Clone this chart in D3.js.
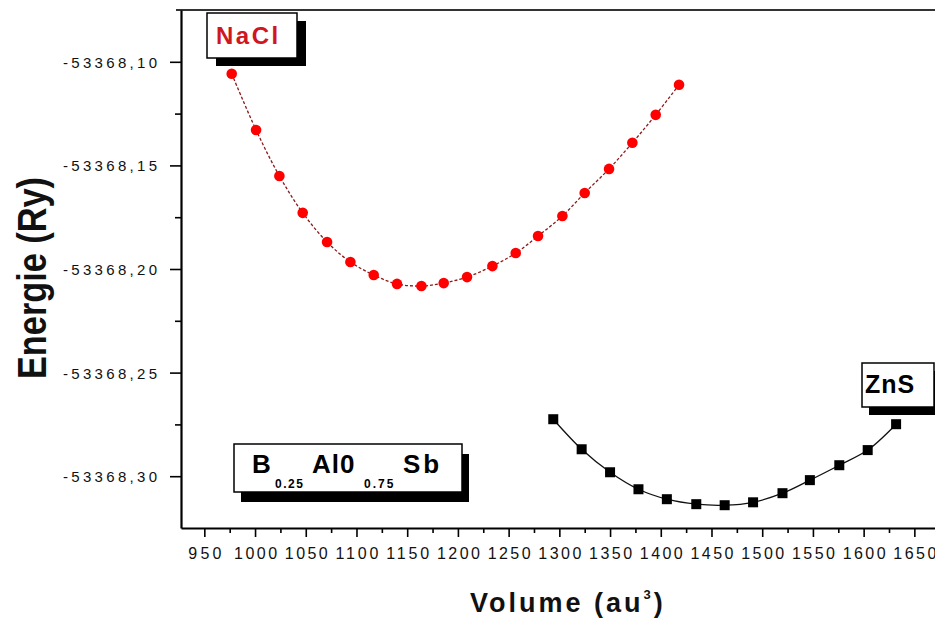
<!DOCTYPE html>
<html>
<head>
<meta charset="utf-8">
<script src="https://cdn.jsdelivr.net/npm/d3@7"></script>
<style>
  html, body { margin: 0; padding: 0; background: #fff; }
  svg { display: block; font-family: Arial, "Liberation Sans", sans-serif; }
</style>
</head>
<body>
<svg id="chart" width="935" height="622"></svg>
<script>
// Total energy vs. cell volume for two phases
const naclVolume = [977, 1001, 1024, 1047, 1071, 1094, 1117, 1140, 1164, 1186,
                    1209, 1234, 1257, 1279, 1303, 1325, 1349, 1372, 1395, 1418];
const naclEnergy = [-53368.1058, -53368.1329, -53368.1551, -53368.1729, -53368.1870,
                    -53368.1966, -53368.2029, -53368.2072, -53368.2082, -53368.2068,
                    -53368.2039, -53368.1986, -53368.1923, -53368.1841, -53368.1744,
                    -53368.1633, -53368.1517, -53368.1391, -53368.1256, -53368.1111];

const znsVolume = [1294, 1322, 1350, 1378, 1406, 1435, 1463, 1491, 1520, 1547, 1576, 1604, 1632];
const znsEnergy = [-53368.2725, -53368.2870, -53368.2981, -53368.3063, -53368.3111,
                   -53368.3135, -53368.3140, -53368.3126, -53368.3082, -53368.3019,
                   -53368.2947, -53368.2874, -53368.2749];

const volumeTicks = [950, 1000, 1050, 1100, 1150, 1200, 1250, 1300, 1350, 1400, 1450, 1500, 1550, 1600, 1650];
const volumeMinorTicks = [975, 1025, 1075, 1125, 1175, 1225, 1275, 1325, 1375, 1425, 1475, 1525, 1575, 1625, 1675];
const energyTicks = [-53368.10, -53368.15, -53368.20, -53368.25, -53368.30];
const energyMinorTicks = [-53368.125, -53368.175, -53368.225, -53368.275];

const svg = d3.select("#chart");
const plot = { left: 181, top: 10, right: 960, bottom: 528 };

const x = d3.scaleLinear().domain([927, 1695]).range([plot.left, plot.right]);
const y = d3.scaleLinear().domain([-53368.325, -53368.075]).range([plot.bottom, plot.top]);

const fmtEnergy = d => d3.format(".2f")(d).replace("\u2212", "-").replace(".", ",");

// top border of the frame
svg.append("line")
  .attr("x1", plot.left - 5).attr("x2", 935)
  .attr("y1", plot.top).attr("y2", plot.top)
  .attr("stroke", "#333").attr("stroke-width", 2);

// y axis
const yAxis = svg.append("g").attr("transform", `translate(${plot.left},0)`)
  .call(d3.axisLeft(y).tickValues(energyTicks).tickFormat(fmtEnergy).tickSize(11).tickSizeOuter(0));
yAxis.append("g")
  .call(d3.axisLeft(y).tickValues(energyMinorTicks).tickFormat("").tickSize(6).tickSizeOuter(0))
  .select(".domain").remove();
yAxis.selectAll(".tick line").attr("stroke", "#000").attr("stroke-width", 1.6);
yAxis.select(".domain").attr("stroke", "#000").attr("stroke-width", 2.2);
yAxis.selectAll(".tick text")
  .attr("x", -24).attr("dy", "0.36em")
  .attr("font-size", 15).attr("fill", "#111")
  .attr("textLength", 94).attr("lengthAdjust", "spacing");

// x axis
const xAxis = svg.append("g").attr("transform", `translate(0,${plot.bottom})`)
  .call(d3.axisBottom(x).tickValues(volumeTicks).tickFormat(d3.format("d")).tickSize(9).tickSizeOuter(0));
xAxis.append("g")
  .call(d3.axisBottom(x).tickValues(volumeMinorTicks).tickFormat("").tickSize(5).tickSizeOuter(0))
  .select(".domain").remove();
xAxis.selectAll(".tick line").attr("stroke", "#000").attr("stroke-width", 1.6);
xAxis.select(".domain").attr("stroke", "#000").attr("stroke-width", 2.2);
xAxis.selectAll(".tick text")
  .attr("y", 20).attr("dy", "0.71em")
  .attr("font-size", 16).attr("fill", "#111")
  .attr("textLength", d => String(d).length === 3 ? 33 : 43).attr("lengthAdjust", "spacing");

// axis titles
svg.append("text")
  .attr("transform", "translate(46,278) rotate(-90)")
  .attr("text-anchor", "middle")
  .attr("font-size", 40).attr("font-weight", "bold").attr("fill", "#111")
  .attr("textLength", 202).attr("lengthAdjust", "spacingAndGlyphs")
  .text("Energie (Ry)");

const xt = svg.append("text")
  .attr("x", 470).attr("y", 612)
  .attr("font-size", 27).attr("font-weight", "bold").attr("fill", "#111")
  .attr("letter-spacing", 3);
xt.append("tspan").text("Volume (au");
xt.append("tspan").attr("dy", -13).attr("font-size", 13).text("3");
xt.append("tspan").attr("dy", 13).text(")");

// series
const curve = d3.line().curve(d3.curveCatmullRom.alpha(0.5));
const naclPts = naclVolume.map((v, i) => [x(v), y(naclEnergy[i])]);
const znsPts = znsVolume.map((v, i) => [x(v), y(znsEnergy[i])]);

svg.append("path").attr("d", curve(naclPts))
  .attr("fill", "none").attr("stroke", "#8b1a1a").attr("stroke-width", 1.3)
  .attr("stroke-dasharray", "3,2");
svg.append("g").selectAll("circle").data(naclPts).join("circle")
  .attr("cx", d => d[0]).attr("cy", d => d[1]).attr("r", 5.3)
  .attr("fill", "#ff0000");

svg.append("path").attr("d", curve(znsPts))
  .attr("fill", "none").attr("stroke", "#111").attr("stroke-width", 1.3);
svg.append("g").selectAll("rect").data(znsPts).join("rect")
  .attr("x", d => d[0] - 5).attr("y", d => d[1] - 5)
  .attr("width", 10).attr("height", 10)
  .attr("fill", "#000");

// labelled boxes with drop shadow
function shadowBox(bx, by, bw, bh, sx, sy) {
  svg.append("rect").attr("x", bx + sx).attr("y", by + sy)
    .attr("width", bw).attr("height", bh).attr("fill", "#000");
  svg.append("rect").attr("x", bx).attr("y", by)
    .attr("width", bw).attr("height", bh)
    .attr("fill", "#fff").attr("stroke", "#000").attr("stroke-width", 1.5);
}
function label(tx, ty, str, size, opts) {
  const o = opts || {};
  return svg.append("text").attr("x", tx).attr("y", ty)
    .attr("font-size", size).attr("font-weight", o.weight || "bold")
    .attr("fill", o.color || "#000")
    .attr("letter-spacing", o.spacing || 0)
    .text(str);
}

shadowBox(207, 13, 90, 45, 9, 8);
label(216, 44, "NaCl", 24, { color: "#d0161e", spacing: 2.5 });

shadowBox(862, 363, 72, 44, 7, 8);
label(865, 393, "ZnS", 25, { spacing: 1 });

shadowBox(234, 444, 228, 48, 7, 10);
label(252, 473, "B", 26);
label(275, 488, "0.25", 12, { spacing: 1.5 });
label(312, 473, "Al0", 26, { spacing: 1 });
label(364, 488, "0.75", 12, { spacing: 2 });
label(403, 473, "Sb", 26, { spacing: 3 });
</script>
</body>
</html>
